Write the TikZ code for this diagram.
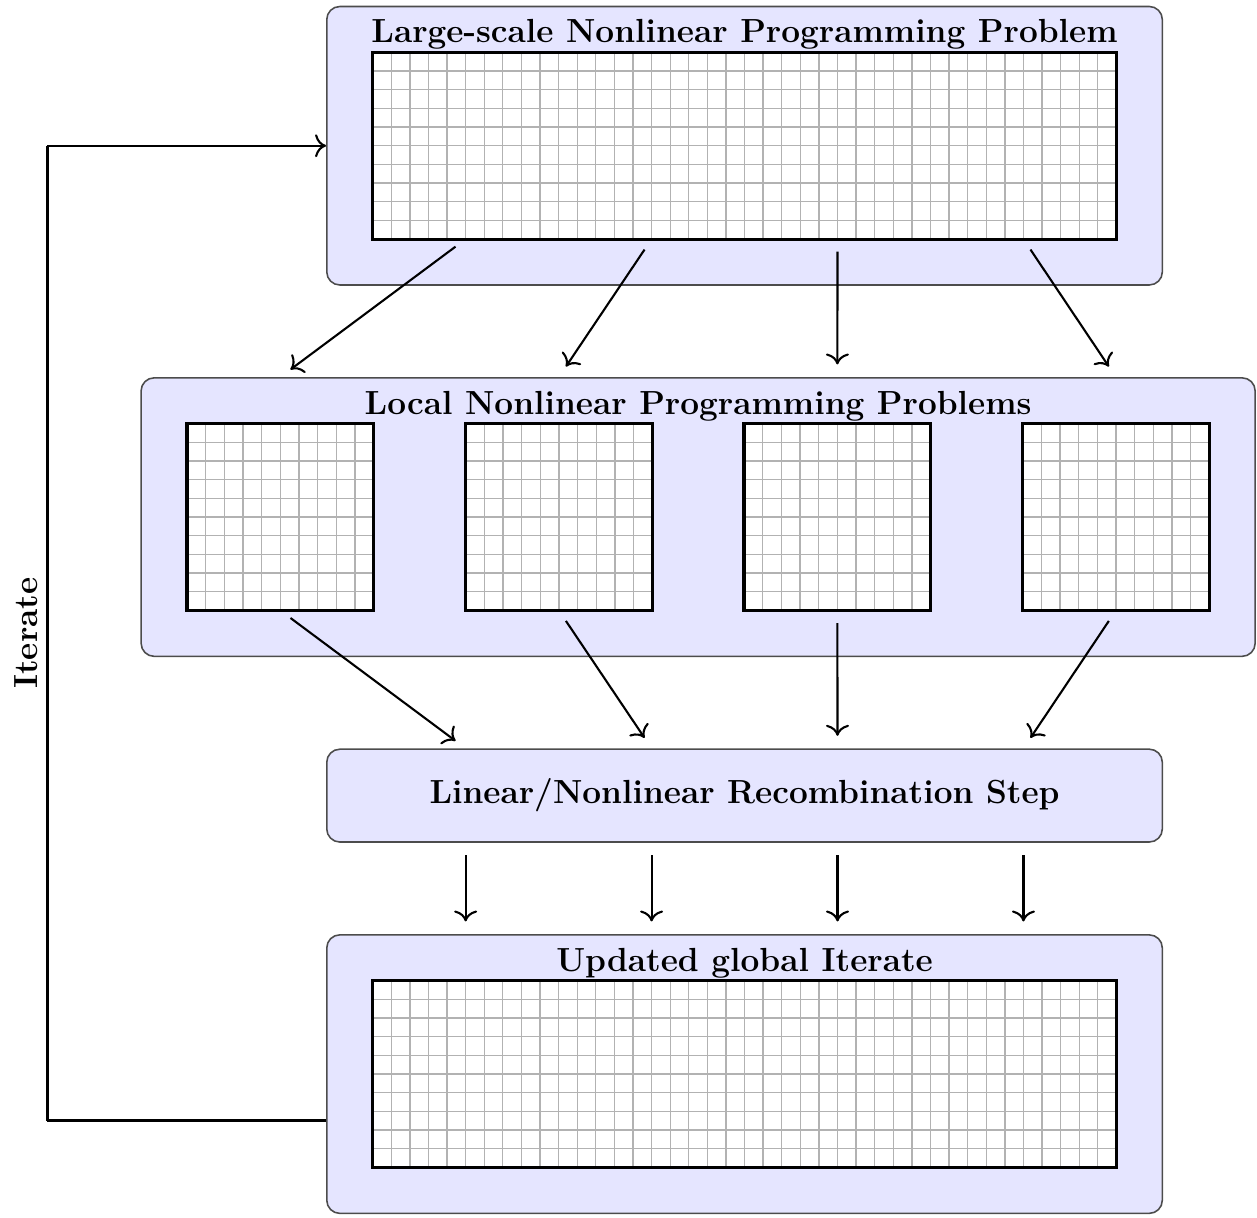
\documentclass[tikz,border=0pt]{standalone}
\usepackage{tikz}
\usetikzlibrary{calc,arrows.meta}

\begin{document}
\begin{tikzpicture}[x=0.25cm, y=0.25cm, every node/.style={align=center, font=\fontsize{12.8pt}{15pt}\selectfont\bfseries},
  panel/.style={draw=black!70, fill=blue!10, rounded corners=5pt, line width=0.6pt, inner sep=0pt},
  mat/.style={fill=white, inner sep=0pt, minimum width=#1, minimum height=2.5cm}, mat/.default=2.5cm,
  gridline/.style={gray!60, line width=0.5pt},
  arr/.style={-{To[scale=1.25]}, thick, shorten >=0.17cm, shorten <=0.17cm}]
\useasboundingbox (-20.1,-2.74) rectangle (47.6,62.85);
% panels
\node[panel, minimum width=11.25cm, minimum height=3.75cm] (top) at (20,55) {};
\node[panel, minimum width=15cm, minimum height=3.75cm] (mid) at (17.5,35) {};
\node[panel, minimum width=11.25cm, minimum height=1.25cm] (rec) at (20,20) {Linear/Nonlinear Recombination Step};
\node[panel, minimum width=11.25cm, minimum height=3.75cm] (bot) at (20,5) {};
\node[anchor=base] (ttop) at (20,60.55) {Large-scale Nonlinear Programming Problem};
\node[anchor=base] (tmid) at (17.5,40.55) {Local Nonlinear Programming Problems};
\node[anchor=base] (tbot) at (20,10.55) {Updated global Iterate};
% matrices (10 rows, \c columns)
\foreach \n/\x/\y/\w/\c in {gT/20/55/10cm/40, g1/-5/35/2.5cm/10, g2/10/35/2.5cm/10, g3/25/35/2.5cm/10, g4/40/35/2.5cm/10, gB/20/5/10cm/40} {
  \node[mat=\w] (\n) at (\x,\y) {};
  \pgfmathtruncatemacro\cc{\c-1}
  \foreach \k in {1,...,\cc}
    \draw[gridline] ($(\n.south west)!\k/\c!(\n.south east)$) -- ($(\n.north west)!\k/\c!(\n.north east)$);
  \foreach \k in {1,...,9}
    \draw[gridline] ($(\n.south west)!\k/10!(\n.north west)$) -- ($(\n.south east)!\k/10!(\n.north east)$);
  \draw[very thick] (\n.south west) rectangle (\n.north east);
}
% splitting and recombination
\foreach \i/\f in {1/0.125, 2/0.375, 3/0.625, 4/0.875} {
  \coordinate (c\i) at ($(gT.south west)!\f!(gT.south east)$);
  \draw[arr] (c\i) -- (g\i |- mid.north);
  \draw[arr] (g\i.south) -- (c\i |- rec.north);
  \draw[arr] (c\i |- rec.south) -- (c\i |- bot.north);
}
% outer loop
\draw[thick] ([yshift=-0.625cm]bot.west) -- ++(-15,0) coordinate (k1);
\draw[thick] (k1) -- (k1 |- top.west) node[midway, above, rotate=90] {Iterate};
\draw[arr, shorten <=0pt, shorten >=0pt] (k1 |- top.west) -- (top.west);
\end{tikzpicture}
\end{document}
